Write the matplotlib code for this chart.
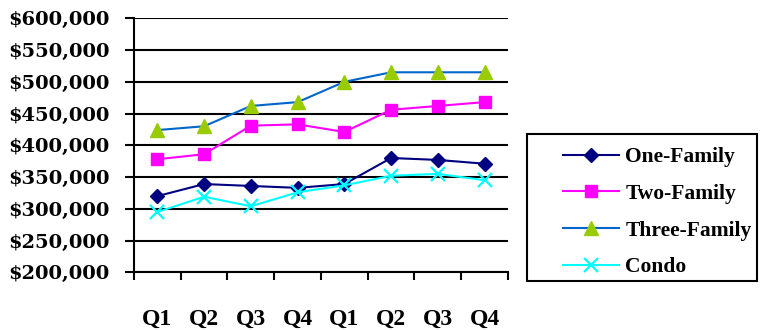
import matplotlib
matplotlib.use("Agg")
import matplotlib.pyplot as plt
from matplotlib.patches import Rectangle
from matplotlib.ticker import FuncFormatter, FixedLocator

quarters = ["Q1", "Q2", "Q3", "Q4", "Q1", "Q2", "Q3", "Q4"]
one_family = [320000, 339000, 336000, 333000, 339000, 380000, 377000, 371000]
two_family = [378000, 386000, 431000, 433000, 421000, 456000, 462000, 468000]
three_family = [424000, 430000, 462000, 468000, 500000, 515000, 515000, 515000]
condo = [295000, 319000, 304000, 326000, 337000, 352000, 355000, 345000]
y_ticks = [200000, 250000, 300000, 350000, 400000, 450000, 500000, 550000, 600000]

serif = ["Liberation Serif", "DejaVu Serif"]
wide_serif = ["DejaVu Serif", "Liberation Serif"]

fig = plt.figure(figsize=(7.6, 3.3), dpi=100)
ax = fig.add_axes([0.1763, 0.1748, 0.4921, 0.7697])

x = list(range(len(quarters)))
ax.plot(x, one_family, color="#000080", marker="D", markersize=7.5, lw=1.5,
        markerfacecolor="#000080", markeredgecolor="#000080", label="One-Family", zorder=3)
ax.plot(x, two_family, color="#FF00FF", marker="s", markersize=9, lw=1.5,
        markerfacecolor="#FF00FF", markeredgecolor="#FF00FF", label="Two-Family", zorder=3)
ax.plot(x, three_family, color="#0066CC", marker="^", markersize=10, lw=1.5,
        markerfacecolor="#99CC00", markeredgecolor="#99CC00", label="Three-Family", zorder=3)
ax.plot(x, condo, color="#00FFFF", marker="x", markersize=9.5, lw=1.5, mew=1.6,
        markerfacecolor="#00FFFF", markeredgecolor="#00FFFF", label="Condo", zorder=4)

ax.set_xlim(-0.5, len(quarters) - 0.5)
ax.set_ylim(200000, 600000)
ax.set_yticks(y_ticks)
ax.yaxis.set_major_formatter(FuncFormatter(lambda v, p: f"${int(v):,}"))
ax.yaxis.grid(True, color="black", lw=1.5)
ax.set_axisbelow(True)

ax.set_xticks(x)
ax.set_xticklabels(quarters)
ax.xaxis.set_minor_locator(FixedLocator([i - 0.5 for i in range(len(quarters) + 1)]))
ax.tick_params(axis="x", which="major", length=0, pad=26)
ax.tick_params(axis="x", which="minor", length=5.5, width=1.5, direction="out")
ax.tick_params(axis="y", length=6.5, width=1.5, direction="out", pad=11)

for lab in ax.get_xticklabels():
    lab.set_fontfamily(serif)
    lab.set_fontweight("bold")
    lab.set_fontsize(17)
for lab in ax.get_yticklabels():
    lab.set_fontfamily(wide_serif)
    lab.set_fontweight("bold")
    lab.set_fontsize(14)

for s in ["top", "right"]:
    ax.spines[s].set_visible(False)
ax.spines["left"].set_linewidth(1.5)
ax.spines["bottom"].set_linewidth(1.5)

# legend frame
fig.patches.append(Rectangle((0.6934, 0.1485), 0.3026, 0.4455, transform=fig.transFigure,
                             fill=False, edgecolor="black", lw=1.5))

leg = fig.legend(loc="upper left", bbox_to_anchor=(0.7408, 0.554),
                 frameon=False, handlelength=2.6, borderpad=0, borderaxespad=0,
                 labelspacing=0.77, handletextpad=0.3,
                 prop={"family": serif, "weight": "bold", "size": 15.5})

fig.savefig("out.png", dpi=100)
